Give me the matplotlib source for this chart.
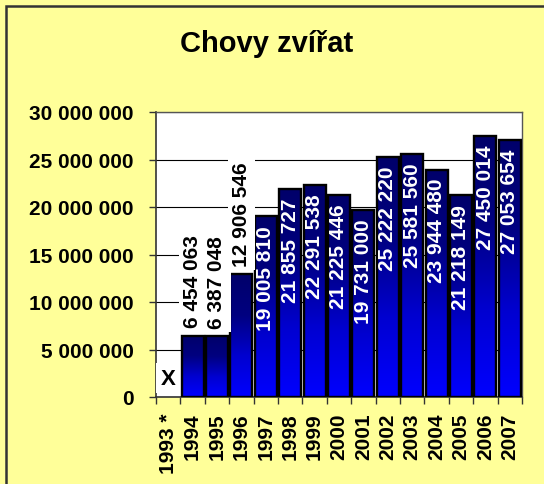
import numpy as np
import matplotlib
matplotlib.use("Agg")
import matplotlib.pyplot as plt
from matplotlib.colors import LinearSegmentedColormap
from matplotlib.patches import Rectangle

# data
roky = ["1993 *", "1994", "1995", "1996", "1997", "1998", "1999", "2000",
        "2001", "2002", "2003", "2004", "2005", "2006", "2007"]
hodnoty = [None, 6454063, 6387048, 12906546, 19005810, 21855727, 22291538,
           21225446, 19731000, 25222220, 25581560, 23944480, 21218149,
           27450014, 27053654]
# labels drawn above the bar (black on white) for these years
nad_sloupcem = ["1994", "1995", "1996"]

plt.rcParams['font.family'] = ['Liberation Sans', 'DejaVu Sans']
plt.rcParams['font.weight'] = 'bold'
FS = 15

fig = plt.figure(figsize=(5.44, 4.85), dpi=100)
fig.patch.set_facecolor("#FFFF99")
# frame of the chart area (only top/left visible in the crop)
fig.patches.append(Rectangle((6 / 544, -0.1), 1.2, 1.1 - 7 / 485,
                             transform=fig.transFigure, fill=False,
                             edgecolor="#333333", linewidth=1.8))

ax = fig.add_axes([156 / 544, 1 - 398 / 485, 366 / 544, 285 / 485])
ax.set_facecolor("white")

cmap = LinearSegmentedColormap.from_list("modra", ["#0000FF", "#0000D0", "#000080", "#00006A"])
grad = np.linspace(0, 1, 256).reshape(-1, 1)
sirka = 0.9

for i, (rok, v) in enumerate(zip(roky, hodnoty)):
    if v is None:
        ax.annotate("X", (i, 0), xytext=(0, 6), textcoords="offset points",
                    ha="center", va="bottom", fontsize=FS + 1, fontweight="bold",
                    bbox=dict(boxstyle="square,pad=0.2", fc="white", ec="none"),
                    zorder=5)
        continue
    ax.imshow(grad, extent=(i - sirka / 2, i + sirka / 2, 0, v), cmap=cmap,
              origin="lower", aspect="auto", zorder=2)
    ax.bar(i, v, width=sirka, facecolor="none", edgecolor="black",
           linewidth=1.7, zorder=3)
    txt = f"{v:,}".replace(",", " ")
    if rok in nad_sloupcem:
        ax.annotate(txt, (i, v), xytext=(0, 6), textcoords="offset points",
                    ha="center", va="bottom", rotation=90, fontsize=FS,
                    fontweight="bold", color="black",
                    bbox=dict(boxstyle="square,pad=0.2", fc="white", ec="none"),
                    zorder=5)
    else:
        ax.annotate(txt, (i, v), xytext=(0, -6), textcoords="offset points",
                    ha="center", va="top", rotation=90, fontsize=FS,
                    fontweight="bold", color="white", zorder=5)

ax.set_xlim(-0.5, len(roky) - 0.5)
ax.set_ylim(0, 30000000)
ax.set_yticks(np.arange(0, 30000001, 5000000))
ax.set_yticklabels([f"{int(t):,}".replace(",", " ") for t in ax.get_yticks()],
                   fontsize=FS, fontweight="bold")
ax.yaxis.grid(True, color="black", linewidth=0.8, zorder=0)
ax.set_axisbelow(True)

ax.set_xticks(range(len(roky)))
ax.set_xticklabels(roky, rotation=90, fontsize=FS, fontweight="bold")
ax.set_xticks(np.arange(-0.5, len(roky)), minor=True)
ax.tick_params(axis="x", which="major", length=0, pad=11)
ax.tick_params(axis="x", which="minor", length=5, width=1, color="#333333")
ax.tick_params(axis="y", length=5, width=1, color="#333333", pad=11)

for s in ["left", "bottom"]:
    ax.spines[s].set_color("#333333")
    ax.spines[s].set_linewidth(1.2)
for s in ["top", "right"]:
    ax.spines[s].set_color("#555555")
    ax.spines[s].set_linewidth(1.0)

fig.text(0.49, 1 - 44 / 485, "Chovy zvířat", ha="center", va="center",
         fontsize=21, fontweight="bold")

fig.savefig("out.png", dpi=100, facecolor=fig.get_facecolor())
